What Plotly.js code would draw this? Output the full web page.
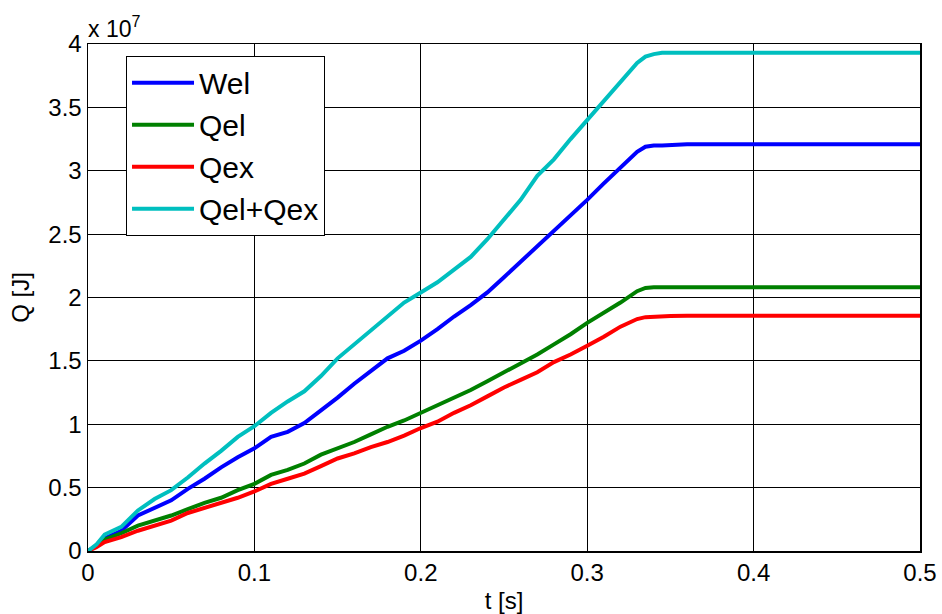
<!DOCTYPE html>
<html>
<head>
<meta charset="utf-8">
<script src="https://cdn.plot.ly/plotly-3.0.1.min.js"></script>
<style>html,body{margin:0;padding:0;background:#fff;}#chart{width:942px;height:614px;}</style>
</head>
<body>
<div id="chart"></div>
<script>
// time [s]
var t = [0,0.005,0.01,0.02,0.03,0.04,0.05,0.06,0.07,0.08,0.09,0.10,0.11,0.12,0.13,0.14,0.15,0.16,0.17,0.18,0.19,0.20,0.21,0.22,0.23,0.24,0.25,0.26,0.27,0.28,0.29,0.30,0.31,0.32,0.33,0.335,0.34,0.345,0.35,0.36,0.5];
// values in units of 1e7 J
var wel = [0,0.04,0.10,0.16,0.28,0.34,0.40,0.49,0.57,0.66,0.74,0.81,0.90,0.94,1.01,1.11,1.21,1.32,1.42,1.52,1.58,1.66,1.75,1.85,1.94,2.04,2.16,2.28,2.40,2.52,2.64,2.77,2.90,3.03,3.15,3.19,3.20,3.20,3.205,3.21,3.21];
var qel = [0,0.04,0.09,0.14,0.20,0.24,0.28,0.33,0.38,0.42,0.48,0.53,0.60,0.64,0.69,0.76,0.81,0.86,0.92,0.98,1.03,1.09,1.15,1.21,1.27,1.34,1.41,1.48,1.55,1.63,1.71,1.80,1.88,1.96,2.05,2.075,2.08,2.08,2.08,2.08,2.08];
var qex = [0,0.03,0.07,0.11,0.16,0.20,0.24,0.30,0.34,0.38,0.42,0.47,0.53,0.57,0.61,0.67,0.73,0.77,0.82,0.86,0.91,0.97,1.02,1.09,1.15,1.22,1.29,1.35,1.41,1.49,1.55,1.62,1.69,1.77,1.83,1.845,1.85,1.853,1.855,1.857,1.857];
var qsum = [0,0.05,0.13,0.19,0.32,0.41,0.48,0.58,0.69,0.79,0.90,0.985,1.09,1.18,1.26,1.38,1.52,1.63,1.74,1.85,1.96,2.04,2.12,2.22,2.32,2.46,2.61,2.77,2.96,3.09,3.25,3.40,3.56,3.70,3.85,3.90,3.92,3.93,3.93,3.93,3.93];

var names = ['Wel','Qel','Qex','Qel+Qex'];
var colors = ['#0000ff','#008000','#ff0000','#00bfbf'];
var series = [wel,qel,qex,qsum];
var xTicks = [0,0.1,0.2,0.3,0.4,0.5];
var xTickText = ['0','0.1','0.2','0.3','0.4','0.5'];
var yTicks = [0,0.5,1,1.5,2,2.5,3,3.5,4];
var yTickText = ['0','0.5','1','1.5','2','2.5','3','3.5','4'];

var traces = series.map(function(s,i){
  return {x:t, y:s, type:'scatter', mode:'lines', name:names[i], legendgroup:'g'+i,
    line:{color:colors[i], width:4}};
});

var font = 'Arial, "Liberation Sans", sans-serif';
var layout = {
  width:942, height:614,
  margin:{l:88, r:22, t:44, b:63},
  paper_bgcolor:'#fff', plot_bgcolor:'#fff',
  font:{family:font, color:'#000', size:24},
  showlegend:true,
  legend:{x:0.0457, y:0.977, xanchor:'left', yanchor:'top', bgcolor:'#fff',
    bordercolor:'#000', borderwidth:1, font:{size:30, family:font},
    traceorder:'grouped', tracegroupgap:0, itemwidth:62},
  xaxis:{range:[0,0.5], tickvals:xTicks, ticktext:xTickText, showgrid:true, gridcolor:'#000', gridwidth:1,
    showline:true, linecolor:'#000', linewidth:1.5, mirror:true, zeroline:false,
    ticks:'inside', ticklen:6, tickcolor:'#000', tickfont:{size:24},
    title:{text:'t [s]', font:{size:24}, standoff:8}},
  yaxis:{range:[0,4], tickvals:yTicks, ticktext:yTickText, showgrid:true, gridcolor:'#000', gridwidth:1,
    showline:true, linecolor:'#000', linewidth:1.5, mirror:true, zeroline:false,
    ticks:'inside', ticklen:6, tickcolor:'#000', tickfont:{size:24},
    title:{text:'Q [J]', font:{size:24}, standoff:12}},
  annotations:[{xref:'paper', yref:'paper', x:0, y:1, xanchor:'left', yanchor:'bottom', yshift:0, xshift:-2,
    text:'x 10<sup>7</sup>', showarrow:false, font:{size:23, family:font}}]
};
Plotly.newPlot('chart', traces, layout, {displayModeBar:false, staticPlot:true});
</script>
</body>
</html>
